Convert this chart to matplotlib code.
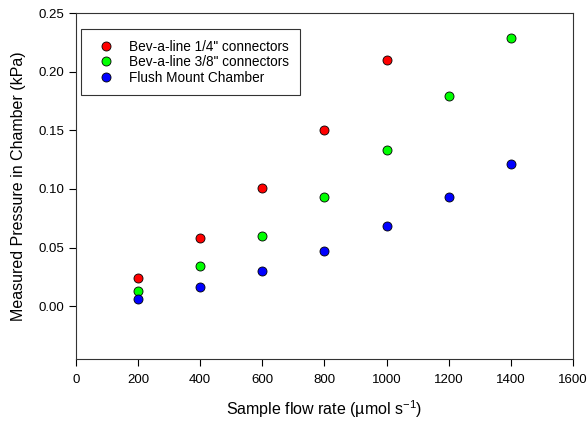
import matplotlib.pyplot as plt

plt.rcParams['font.family'] = ['Liberation Sans', 'DejaVu Sans']

flow_a = [200, 400, 600, 800, 1000]
press_a = [0.024, 0.058, 0.101, 0.150, 0.210]

flow_b = [200, 400, 600, 800, 1000, 1200, 1400]
press_b = [0.013, 0.034, 0.060, 0.093, 0.133, 0.179, 0.229]

flow_c = [200, 400, 600, 800, 1000, 1200, 1400]
press_c = [0.006, 0.016, 0.030, 0.047, 0.068, 0.093, 0.121]

labels = ['Bev-a-line 1/4" connectors', 'Bev-a-line 3/8" connectors', 'Flush Mount Chamber']
colors = ['#ff0000', '#00ff00', '#0000ff']

fig = plt.figure(figsize=(5.87, 4.25), dpi=100)
ax = fig.add_axes([0.1295, 0.1553, 0.8465, 0.8141])

for x, y, lab, c in zip([flow_a, flow_b, flow_c], [press_a, press_b, press_c], labels, colors):
	ax.plot(x, y, 'o', color=c, markeredgecolor='black', markeredgewidth=0.6,
		markersize=6.5, label=lab)

ax.set_xlim(0, 1600)
ax.set_ylim(-0.045, 0.25)
ax.set_xticks(range(0, 1601, 200))
ax.set_yticks([0.0, 0.05, 0.10, 0.15, 0.20, 0.25])
ax.set_yticklabels(['0.00', '0.05', '0.10', '0.15', '0.20', '0.25'])
ax.tick_params(direction='out', length=5, width=0.8, labelsize=9.5, colors='black')
ax.tick_params(axis='x', pad=6)
for s in ax.spines.values():
	s.set_linewidth(0.8)
	s.set_color('#333333')

ax.set_xlabel(r'Sample flow rate (µmol s$^{\mathregular{-1}}$)', fontsize=11.5, labelpad=9)
ax.set_ylabel('Measured Pressure in Chamber (kPa)', fontsize=11.5, labelpad=9)

leg = ax.legend(loc='upper left', bbox_to_anchor=(0.01, 0.954), borderaxespad=0,
	fontsize=9.8, frameon=True, fancybox=False, edgecolor='black',
	handletextpad=0.6, labelspacing=0.1, borderpad=0.8, handlelength=2.1)
leg.get_frame().set_linewidth(0.8)

fig.savefig('out.png', dpi=100)
